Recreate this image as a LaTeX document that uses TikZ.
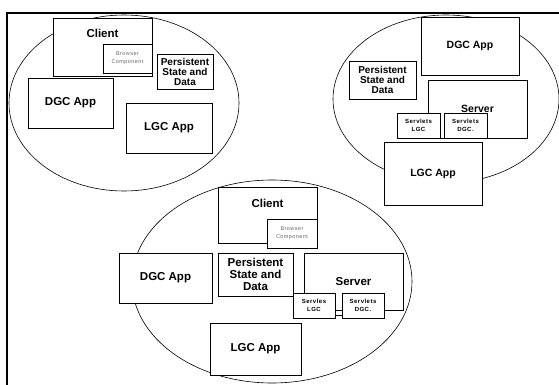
\documentclass[tikz,border=0pt]{standalone}
\usepackage{fontspec}
\setmainfont{Liberation Sans}
\newfontfamily\widesans[LetterSpace=8]{Liberation Sans}
\usetikzlibrary{positioning}

\tikzset{
  zone/.style={draw, line width=0.6pt},
  box/.style={draw, fill=white, line width=0.8pt, inner sep=0pt, align=center,
    font=\bfseries\fontsize{11.5}{13}\selectfont},
  pbox/.style={box, font=\bfseries\fontsize{10}{10}\selectfont},
  servlet/.style={box, font=\widesans\bfseries\fontsize{6}{8}\selectfont},
  browser/.style={box, font=\widesans\fontsize{5.5}{8}\selectfont, text=black!60},
  lbl/.style={inner sep=0pt, font=\bfseries\fontsize{11.5}{13}\selectfont}
}

\begin{document}
\begin{tikzpicture}[x=1pt, y=-1pt]
    \useasboundingbox (0,0) rectangle (559,385);

    % Frame
    \draw[line width=2.4pt] (7,385) -- (7,13) -- (559,13);

    % Draw the three groups
    \draw[zone] (124,103) ellipse [x radius=115, y radius=88];
    \draw[zone] (446,99) ellipse [x radius=113, y radius=84];
    \draw[zone] (272,281.5) ellipse [x radius=140, y radius=101.5];

    % Top left group
    \node[box, minimum width=99pt, minimum height=58pt] (client1) at (102.5,47) {};
    \node[lbl, below=11pt of client1.north] (client1lbl) {Client};
    \node[browser, minimum width=49pt, minimum height=29pt] (browser1) at (127.5,58.5) {Browser\\Component};
    \node[pbox, minimum width=56pt, minimum height=35pt] (persist1) at (185,71.5) {Persistent\\State and\\Data};
    \node[box, minimum width=85pt, minimum height=50pt] (dgc1) at (70.5,103) {DGC App};
    \node[box, minimum width=86pt, minimum height=50pt] (lgc1) at (169,128) {LGC App};

    % Top right group
    \node[box, font=\bfseries\fontsize{10.5}{12}\selectfont, minimum width=98pt, minimum height=58pt] (dgc2) at (470,46) {DGC App};
    \node[pbox, minimum width=67pt, minimum height=38pt] (persist2) at (382.5,80) {Persistent\\State and\\Data};
    \node[box, font=\bfseries\fontsize{10.5}{12}\selectfont, minimum width=99pt, minimum height=58pt] (server2) at (477.5,109) {Server};
    \node[servlet, minimum width=43pt, minimum height=25pt] (svlgc2) at (418.5,125.5) {Servlets\\LGC};
    \node[servlet, minimum width=43pt, minimum height=25pt] (svdgc2) at (465.5,125.5) {Servlets\\DGC.};
    \node[box, font=\bfseries\fontsize{10.5}{12}\selectfont, minimum width=98pt, minimum height=63pt] (lgc2) at (433,173.5) {LGC App};

    % Bottom group
    \node[box, minimum width=99pt, minimum height=56pt] (client3) at (267.5,215) {};
    \node[lbl, below=12pt of client3.north] (client3lbl) {Client};
    \node[browser, minimum width=50pt, minimum height=29pt] (browser3) at (292,233.5) {Browser\\Component};
    \node[box, minimum width=93pt, minimum height=50pt] (dgc3) at (165.5,278) {DGC App};
    \node[pbox, font=\bfseries\fontsize{11.5}{12}\selectfont, minimum width=75pt, minimum height=43pt] (persist3) at (255.5,274.5) {Persistent\\State and\\Data};
    \node[box, minimum width=99pt, minimum height=57pt] (server3) at (353.5,281.5) {Server};
    \node[servlet, minimum width=42pt, minimum height=25pt] (svlgc3) at (314,305.5) {Servles\\LGC};
    \node[servlet, minimum width=42pt, minimum height=25pt] (svdgc3) at (363,305.5) {Servlets\\DGC.};
    \node[box, minimum width=91pt, minimum height=52pt] (lgc3) at (255.5,349) {LGC App};

    \draw[line width=0.8pt] ([yshift=3pt]svlgc3.south east) -- ([yshift=3pt]svdgc3.south west);
\end{tikzpicture}
\end{document}
